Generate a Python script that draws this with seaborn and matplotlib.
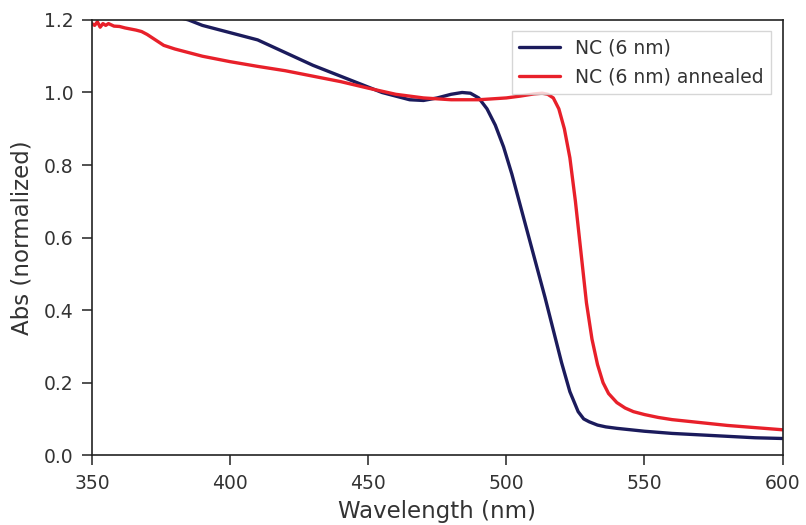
import numpy as np
import pandas as pd
import matplotlib
matplotlib.use("Agg")
import matplotlib.pyplot as plt
import seaborn as sns

# Absorption spectra of 6 nm nanocrystals, as-made and after annealing
wl_nc = [350, 360, 370, 380, 385, 390, 400, 410, 420, 430, 440, 450, 455, 460,
         465, 470, 475, 480, 484, 487, 490, 493, 496, 499, 502, 505, 508, 511,
         514, 517, 520, 523, 526, 528, 530, 533, 536, 540, 545, 550, 560, 570,
         580, 590, 600]
abs_nc = [1.32, 1.28, 1.24, 1.21, 1.20, 1.185, 1.165, 1.145, 1.11, 1.075, 1.045,
          1.015, 1.0, 0.99, 0.98, 0.978, 0.985, 0.995, 1.0, 0.998, 0.985, 0.955,
          0.91, 0.85, 0.775, 0.69, 0.605, 0.52, 0.435, 0.345, 0.255, 0.175,
          0.12, 0.10, 0.092, 0.083, 0.078, 0.074, 0.070, 0.066, 0.060, 0.056,
          0.052, 0.048, 0.046]

wl_ann = [350, 351, 352, 353, 354, 355, 356, 358, 360, 362, 364, 366, 368,
          370, 373, 376, 380, 385, 390, 400, 410, 420, 430, 440, 450, 460,
          470, 480, 490, 500, 505, 510, 513, 515, 517, 519, 521, 523, 525,
          527, 529, 531, 533, 535, 537, 540, 543, 546, 550, 555, 560, 570,
          580, 590, 600]
abs_ann = [1.19, 1.185, 1.195, 1.18, 1.19, 1.185, 1.19, 1.183, 1.182, 1.178,
           1.175, 1.172, 1.168, 1.16, 1.145, 1.13, 1.12, 1.11, 1.1, 1.085,
           1.072, 1.06, 1.045, 1.03, 1.012, 0.995, 0.985, 0.98, 0.98, 0.985,
           0.99, 0.996, 0.998, 0.995, 0.985, 0.955, 0.90, 0.82, 0.70, 0.56,
           0.42, 0.32, 0.25, 0.20, 0.17, 0.145, 0.13, 0.12, 0.112, 0.104,
           0.098, 0.090, 0.082, 0.076, 0.070]

df = pd.concat([
    pd.DataFrame({"Wavelength": wl_nc, "Abs": abs_nc, "Sample": "NC (6 nm)"}),
    pd.DataFrame({"Wavelength": wl_ann, "Abs": abs_ann, "Sample": "NC (6 nm) annealed"}),
])

sns.set_style("ticks")
plt.rcParams["font.family"] = ["DejaVu Sans"]

fig = plt.figure(figsize=(8.06, 5.25), dpi=100)
ax = fig.add_axes([0.114, 0.133, 0.857, 0.829])

sns.lineplot(data=df, x="Wavelength", y="Abs", hue="Sample",
             palette={"NC (6 nm)": "#1b1b5c", "NC (6 nm) annealed": "#e8202a"},
             linewidth=2.4, ax=ax, sort=False)

ax.set_xlim(350, 600)
ax.set_ylim(0, 1.2)
ax.set_xticks([350, 400, 450, 500, 550, 600])
ax.set_yticks([0.0, 0.2, 0.4, 0.6, 0.8, 1.0, 1.2])
ax.set_yticklabels(["0.0", "0.2", "0.4", "0.6", "0.8", "1.0", "1.2"])
ax.tick_params(labelsize=13.5, colors="#333333", length=7.5, width=1.2, pad=6)
ax.set_xlabel("Wavelength (nm)", fontsize=16.5, color="#333333", labelpad=5)
ax.set_ylabel("Abs (normalized)", fontsize=16.5, color="#333333", labelpad=7)
for s in ax.spines.values():
    s.set_color("#222222")
    s.set_linewidth(1.2)

leg = ax.legend(loc="upper right", fontsize=13.5, frameon=True, fancybox=False,
                borderaxespad=0.6, handlelength=2.2)
leg.get_frame().set_edgecolor("#cccccc")
for t in leg.get_texts():
    t.set_color("#333333")

fig.savefig("out.png", dpi=100)
